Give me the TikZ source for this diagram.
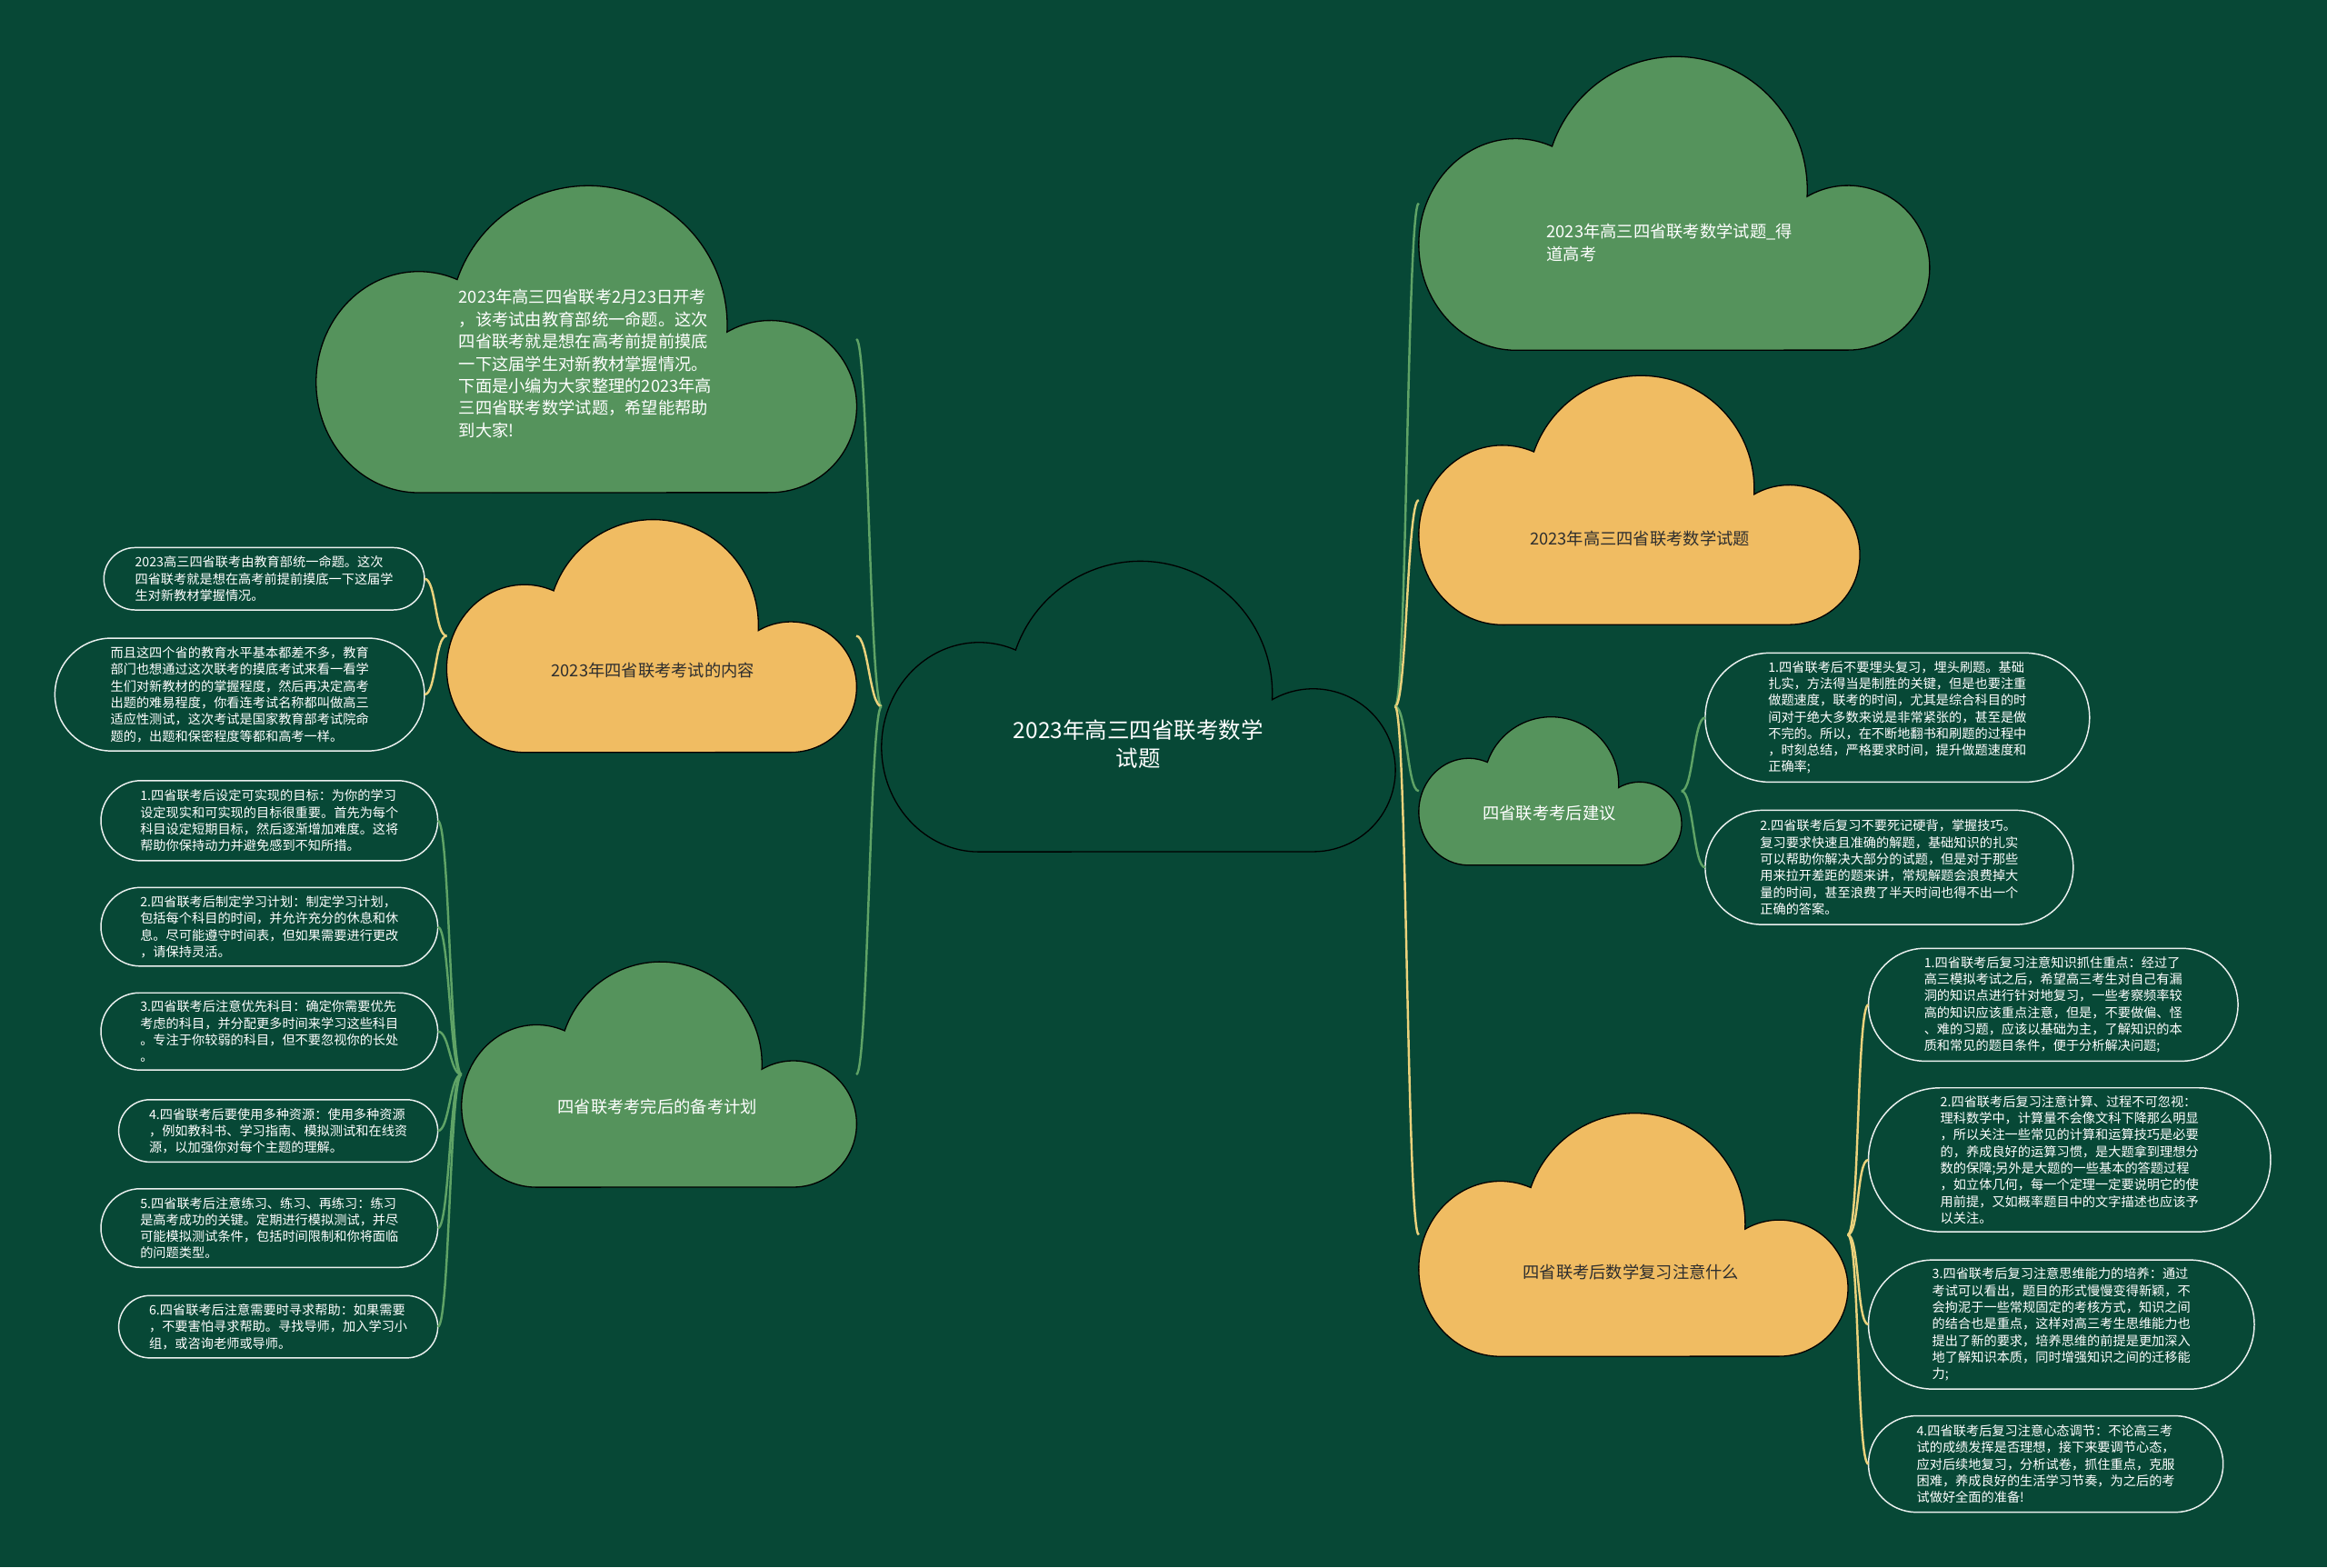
\documentclass[tikz,border=0pt]{standalone}
\usepackage{fontspec}
\newfontfamily\cjk{Noto Sans CJK SC}
\usetikzlibrary{calc}
\definecolor{bg}{HTML}{074836}
\definecolor{cgreen}{HTML}{55935C}
\definecolor{cyellow}{HTML}{F0BC62}
\definecolor{lgreen}{HTML}{5FA366}
\definecolor{lyellow}{HTML}{EBD27C}
\definecolor{dtext}{HTML}{2E2E2E}
\tikzset{
  cloudbox/.style={inner sep=0pt, outer sep=0pt},
  cloudline/.style={draw=black, line width=0.8pt},
  wlabel/.style={font=\cjk\fontsize{11.2}{15}\selectfont, text=white, inner sep=0pt, align=left},
  dlabel/.style={font=\cjk\fontsize{11.2}{15}\selectfont, text=dtext, inner sep=0pt, align=left},
  rootlabel/.style={font=\cjk\fontsize{15}{19}\selectfont, text=white, inner sep=0pt, align=center},
  pilltext/.style={font=\cjk\fontsize{8.7}{11.2}\selectfont, text=white, inner sep=0pt, outer sep=0pt, align=left},
  pillline/.style={draw=white!92!bg, line width=0.9pt},
  glink/.style={draw=lgreen, line width=1.5pt},
  ylink/.style={draw=lyellow, line width=1.5pt},
}
\newcommand\mmcloud[6]{%
  \path[cloudline, fill=#6] ({#2+0.19*#4},{#3+#5})
    arc[start angle=270, end angle=68, x radius={0.19*#4pt}, y radius={0.36*#5pt}]
    arc[start angle=160.9, end angle=-2.8, x radius={0.257*#4pt}, y radius={0.454*#5pt}]
    arc[start angle=120, end angle=-90, x radius={0.16*#4pt}, y radius={0.28*#5pt}]
    -- cycle;
  \node[cloudbox, minimum width=#4pt, minimum height=#5pt] (#1) at ({#2+#4/2},{#3+#5/2}) {};
}
\newcommand\mmpill[6]{%
  \node[pilltext, minimum width=#4pt, minimum height=#5pt] (#1) at (#2,#3) {#6};
  \draw[pillline] ([xshift={0.5*#5pt}]#1.north west) -- ([xshift={-0.5*#5pt}]#1.north east)
    arc[start angle=90, end angle=-90, x radius={0.5*#5pt}, y radius={0.5*#5pt}]
    -- ([xshift={0.5*#5pt}]#1.south west)
    arc[start angle=270, end angle=90, x radius={0.5*#5pt}, y radius={0.5*#5pt}] -- cycle;
}
\newcommand\mmlinkL[3]{\draw[#1] (#2.west) .. controls ([xshift=-8pt]#2.west) and ([xshift=8pt]#3.east) .. (#3.east);}
\newcommand\mmlinkR[3]{\draw[#1] (#2.east) .. controls ([xshift=8pt]#2.east) and ([xshift=-8pt]#3.west) .. (#3.west);}

\begin{document}
\begin{tikzpicture}[x=1pt, y=-1pt]
\fill[bg] (0,0) rectangle (1568,1056);
\useasboundingbox (0,0) rectangle (1568,1056);

% clouds
\mmcloud{C0}{594}{378}{346}{196}{bg}
\mmcloud{L1}{213}{125}{364}{207}{cgreen}
\mmcloud{L2}{301}{350}{276}{157}{cyellow}
\mmcloud{L3}{311}{648}{266}{152}{cgreen}
\mmcloud{R1}{956}{38}{344}{198}{cgreen}
\mmcloud{R2}{956}{253}{297}{168}{cyellow}
\mmcloud{R3}{956}{483}{177}{100}{cgreen}
\mmcloud{R4}{956}{750}{289}{164}{cyellow}

% cloud labels
\node[rootlabel] (C0t) at (767,501.5) {2023年高三四省联考数学\\试题};
\node[wlabel, anchor=west] (L1t) at (309,245) {2023年高三四省联考2月23日开考\\，该考试由教育部统一命题。这次\\四省联考就是想在高考前提前摸底\\一下这届学生对新教材掌握情况。\\下面是小编为大家整理的2023年高\\三四省联考数学试题，希望能帮助\\到大家!};
\node[dlabel] (L2t) at (440,452) {2023年四省联考考试的内容};
\node[wlabel] (L3t) at (443,746) {四省联考考完后的备考计划};
\node[wlabel, anchor=west] (R1t) at (1042,163.5) {2023年高三四省联考数学试题\_得\\道高考};
\node[dlabel] (R2t) at (1105,363) {2023年高三四省联考数学试题};
\node[wlabel] (R3t) at (1044,548) {四省联考考后建议};
\node[dlabel] (R4t) at (1099,857) {四省联考后数学复习注意什么};

% leaf boxes, left
\mmpill{Ya}{178}{390}{216}{42}{2023高三四省联考由教育部统一命题。这次\\四省联考就是想在高考前提前摸底一下这届学\\生对新教材掌握情况。}
\mmpill{Yb}{161.5}{468}{249}{76}{而且这四个省的教育水平基本都差不多，教育\\部门也想通过这次联考的摸底考试来看一看学\\生们对新教材的的掌握程度，然后再决定高考\\出题的难易程度，你看连考试名称都叫做高三\\适应性测试，这次考试是国家教育部考试院命\\题的，出题和保密程度等都和高考一样。}
\mmpill{G1}{181.5}{553}{227}{54}{1.四省联考后设定可实现的目标：为你的学习\\设定现实和可实现的目标很重要。首先为每个\\科目设定短期目标，然后逐渐增加难度。这将\\帮助你保持动力并避免感到不知所措。}
\mmpill{G2}{181.5}{624.5}{227}{53}{2.四省联考后制定学习计划：制定学习计划，\\包括每个科目的时间，并允许充分的休息和休\\息。尽可能遵守时间表，但如果需要进行更改\\，请保持灵活。}
\mmpill{G3}{181.5}{695}{227}{52}{3.四省联考后注意优先科目：确定你需要优先\\考虑的科目，并分配更多时间来学习这些科目\\。专注于你较弱的科目，但不要忽视你的长处\\。}
\mmpill{G4}{187.5}{762}{215}{42}{4.四省联考后要使用多种资源：使用多种资源\\，例如教科书、学习指南、模拟测试和在线资\\源，以加强你对每个主题的理解。}
\mmpill{G5}{181.5}{827.5}{227}{53}{5.四省联考后注意练习、练习、再练习：练习\\是高考成功的关键。定期进行模拟测试，并尽\\可能模拟测试条件，包括时间限制和你将面临\\的问题类型。}
\mmpill{G6}{187.5}{894}{215}{42}{6.四省联考后注意需要时寻求帮助：如果需要\\，不要害怕寻求帮助。寻找导师，加入学习小\\组，或咨询老师或导师。}

% leaf boxes, right
\mmpill{Sa}{1278.5}{483.5}{259}{87}{1.四省联考后不要埋头复习，埋头刷题。基础\\扎实，方法得当是制胜的关键，但是也要注重\\做题速度，联考的时间，尤其是综合科目的时\\间对于绝大多数来说是非常紧张的，甚至是做\\不完的。所以，在不断地翻书和刷题的过程中\\，时刻总结，严格要求时间，提升做题速度和\\正确率;}
\mmpill{Sb}{1273}{584.5}{248}{77}{2.四省联考后复习不要死记硬背，掌握技巧。\\复习要求快速且准确的解题，基础知识的扎实\\可以帮助你解决大部分的试题，但是对于那些\\用来拉开差距的题来讲，常规解题会浪费掉大\\量的时间，甚至浪费了半天时间也得不出一个\\正确的答案。}
\mmpill{B1}{1383.5}{677}{249}{76}{1.四省联考后复习注意知识抓住重点：经过了\\高三模拟考试之后，希望高三考生对自己有漏\\洞的知识点进行针对地复习，一些考察频率较\\高的知识应该重点注意，但是，不要做偏、怪\\、难的习题，应该以基础为主，了解知识的本\\质和常见的题目条件，便于分析解决问题;}
\mmpill{B2}{1394.5}{781.5}{271}{97}{2.四省联考后复习注意计算、过程不可忽视：\\理科数学中，计算量不会像文科下降那么明显\\，所以关注一些常见的计算和运算技巧是必要\\的，养成良好的运算习惯，是大题拿到理想分\\数的保障;另外是大题的一些基本的答题过程\\，如立体几何，每一个定理一定要说明它的使\\用前提，又如概率题目中的文字描述也应该予\\以关注。}
\mmpill{B3}{1389}{892.5}{260}{87}{3.四省联考后复习注意思维能力的培养：通过\\考试可以看出，题目的形式慢慢变得新颖，不\\会拘泥于一些常规固定的考核方式，知识之间\\的结合也是重点，这样对高三考生思维能力也\\提出了新的要求，培养思维的前提是更加深入\\地了解知识本质，同时增强知识之间的迁移能\\力;}
\mmpill{B4}{1378.5}{986.5}{239}{65}{4.四省联考后复习注意心态调节：不论高三考\\试的成绩发挥是否理想，接下来要调节心态，\\应对后续地复习，分析试卷，抓住重点，克服\\困难，养成良好的生活学习节奏，为之后的考\\试做好全面的准备!}

% connectors from root
\mmlinkL{glink}{C0}{L1}
\mmlinkL{ylink}{C0}{L2}
\mmlinkL{glink}{C0}{L3}
\mmlinkR{glink}{C0}{R1}
\mmlinkR{ylink}{C0}{R2}
\mmlinkR{glink}{C0}{R3}
\mmlinkR{ylink}{C0}{R4}

% connectors to leaves
\mmlinkL{ylink}{L2}{Ya}
\mmlinkL{ylink}{L2}{Yb}
\mmlinkL{glink}{L3}{G1}
\mmlinkL{glink}{L3}{G2}
\mmlinkL{glink}{L3}{G3}
\mmlinkL{glink}{L3}{G4}
\mmlinkL{glink}{L3}{G5}
\mmlinkL{glink}{L3}{G6}
\mmlinkR{glink}{R3}{Sa}
\mmlinkR{glink}{R3}{Sb}
\mmlinkR{ylink}{R4}{B1}
\mmlinkR{ylink}{R4}{B2}
\mmlinkR{ylink}{R4}{B3}
\mmlinkR{ylink}{R4}{B4}
\end{tikzpicture}
\end{document}
